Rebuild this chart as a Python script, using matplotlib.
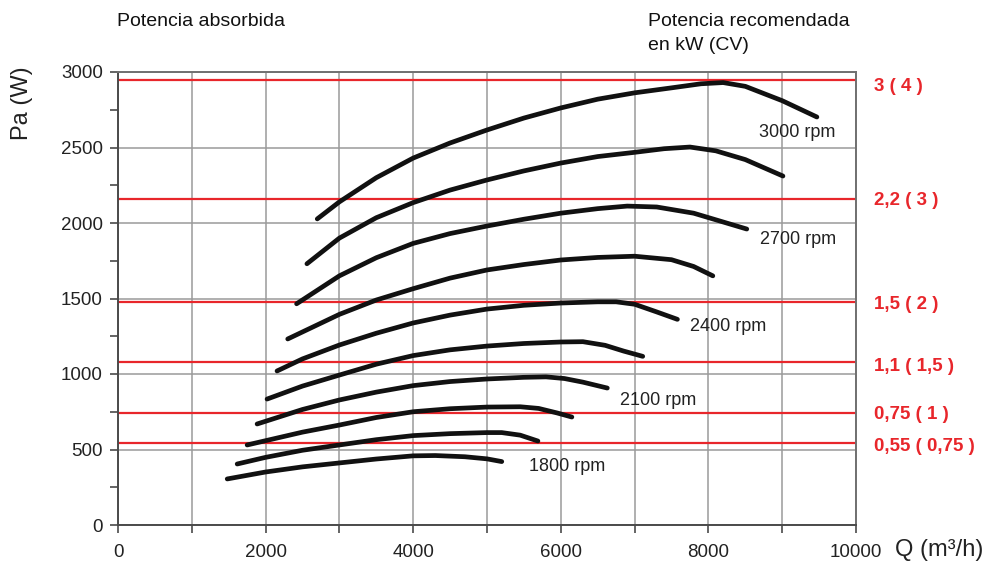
"""Fan power curves with recommended motor power lines."""

import matplotlib
matplotlib.use('Agg')
import matplotlib.pyplot as plt
from matplotlib.ticker import MultipleLocator, FixedLocator


# curves, from 3000 rpm down to 1800 rpm (Q in m3/h, Pa in W)
Q_A = [2700, 3000, 3500, 4000, 4500, 5000, 5500, 6000, 6500, 7000, 7500,
       7900, 8200, 8500, 9000, 9470]
P_A = [2027, 2140, 2300, 2430, 2530, 2616, 2695, 2762, 2820, 2862, 2895,
       2922, 2930, 2905, 2810, 2702]
Q_B = [2560, 3000, 3500, 4000, 4500, 5000, 5500, 6000, 6500, 7000, 7400,
       7750, 8100, 8500, 9010]
P_B = [1730, 1900, 2035, 2135, 2218, 2285, 2345, 2397, 2440, 2468, 2492,
       2503, 2478, 2420, 2311]
Q_C = [2420, 3000, 3500, 4000, 4500, 5000, 5500, 6000, 6500, 6900, 7300,
       7800, 8520]
P_C = [1465, 1650, 1770, 1865, 1930, 1980, 2025, 2065, 2095, 2112, 2106,
       2065, 1960]
Q_D = [2300, 3000, 3500, 4000, 4500, 5000, 5500, 6000, 6500, 7000, 7500,
       7800, 8060]
P_D = [1232, 1395, 1490, 1565, 1635, 1689, 1725, 1755, 1772, 1780, 1757,
       1712, 1650]
Q_E = [2155, 2500, 3000, 3500, 4000, 4500, 5000, 5500, 6000, 6500, 6750,
       7000, 7300, 7580]
P_E = [1020, 1100, 1192, 1270, 1338, 1390, 1430, 1455, 1470, 1478, 1478,
       1462, 1411, 1362]
Q_F = [2020, 2500, 3000, 3500, 4000, 4500, 5000, 5500, 6000, 6300, 6600,
       6850, 7110]
P_F = [834, 920, 993, 1065, 1122, 1160, 1185, 1202, 1212, 1214, 1190,
       1152, 1117]
Q_G = [1885, 2500, 3000, 3500, 4000, 4500, 5000, 5500, 5800, 6050, 6300,
       6630]
P_G = [669, 765, 828, 880, 923, 950, 967, 978, 981, 970, 946, 907]
Q_H = [1750, 2500, 3000, 3500, 4000, 4500, 5000, 5450, 5700, 5950, 6150]
P_H = [530, 615, 662, 712, 750, 770, 781, 783, 772, 742, 715]
Q_I = [1615, 2000, 2500, 3000, 3500, 4000, 4500, 5000, 5200, 5450, 5690]
P_I = [404, 448, 495, 530, 565, 592, 605, 612, 612, 595, 556]
Q_J = [1480, 2000, 2500, 3000, 3500, 4000, 4300, 4700, 5000, 5200]
P_J = [305, 351, 385, 411, 437, 458, 460, 452, 438, 420]

CURVES = [(Q_A, P_A), (Q_B, P_B), (Q_C, P_C), (Q_D, P_D), (Q_E, P_E),
          (Q_F, P_F), (Q_G, P_G), (Q_H, P_H), (Q_I, P_I), (Q_J, P_J)]

# rpm labels
RPM_TEXT = ['3000 rpm', '2700 rpm', '2400 rpm', '2100 rpm', '1800 rpm']
RPM_Q = [8680, 8700, 7750, 6800, 5570]
RPM_P = [2600, 1890, 1315, 825, 385]

# recommended motor power, kW (CV)
MOTOR_P = [2945, 2160, 1475, 1080, 740, 545]
MOTOR_TEXT = ['3 ( 4 )', '2,2 ( 3 )', '1,5 ( 2 )', '1,1 ( 1,5 )',
              '0,75 ( 1 )', '0,55 ( 0,75 )']
MOTOR_DY = [-40, -10, -15, -30, -5, -25]

RED = '#e8262b'


def main():
    plt.rcParams['font.family'] = ['Liberation Sans', 'DejaVu Sans']

    fig = plt.figure(figsize=(9.88, 5.67), dpi=100)
    ax = fig.add_axes([118/988, 1-525/567, 738/988, 453/567])
    ax.set_xlim(0, 10000)
    ax.set_ylim(0, 3000)

    # grid and frame
    ax.xaxis.set_major_locator(FixedLocator(range(0, 10001, 2000)))
    ax.xaxis.set_minor_locator(FixedLocator(range(1000, 10000, 2000)))
    ax.yaxis.set_major_locator(MultipleLocator(500))
    ax.yaxis.set_minor_locator(MultipleLocator(250))
    ax.grid(which='major', color='#9a9a9a', lw=1.1)
    ax.grid(which='minor', axis='x', color='#9a9a9a', lw=1.1)
    ax.set_axisbelow(True)
    for side in ['left', 'bottom']:
        ax.spines[side].set_color('#4a4a4a')
        ax.spines[side].set_linewidth(1.4)
    for side in ['top', 'right']:
        ax.spines[side].set_color('#707070')
        ax.spines[side].set_linewidth(1.4)
    ax.tick_params(which='both', direction='out', color='#4a4a4a',
                   width=1.2, labelsize=13.5, labelcolor='#222222')
    ax.tick_params(which='major', length=6, pad=5)
    ax.tick_params(which='minor', length=6)
    ax.tick_params(axis='x', pad=8)

    # motor power lines
    for p, txt, dy in zip(MOTOR_P, MOTOR_TEXT, MOTOR_DY):
        ax.axhline(p, color=RED, lw=1.6, zorder=2)
        ax.text(1.024, p + dy, txt, color=RED, fontsize=13.5, weight='bold',
                va='center', ha='left',
                transform=ax.get_yaxis_transform(), clip_on=False)

    # power curves
    for q, p in CURVES:
        ax.plot(q, p, color='#111111', lw=3.4, solid_capstyle='round',
                solid_joinstyle='round', zorder=3)
    for txt, q, p in zip(RPM_TEXT, RPM_Q, RPM_P):
        ax.text(q, p, txt, fontsize=13, color='#222222', va='center',
                ha='left')

    # axis titles and headers
    fig.text(22/988, 1-103/567, 'Pa (W)', rotation=90, fontsize=17,
             ha='center', va='center', color='#222222')
    fig.text(895/988, 1-550/567, 'Q (m³/h)', fontsize=17,
             ha='left', va='center', color='#222222')
    fig.text(117/988, 1-21/567, 'Potencia absorbida', fontsize=14,
             ha='left', va='center', color='#111111')
    fig.text(648/988, 1-21/567, 'Potencia recomendada', fontsize=14,
             ha='left', va='center', color='#111111')
    fig.text(648/988, 1-45/567, 'en kW (CV)', fontsize=14,
             ha='left', va='center', color='#111111')

    fig.savefig('out.png', dpi=100)
    plt.close(fig)


if __name__ == '__main__':
    main()
